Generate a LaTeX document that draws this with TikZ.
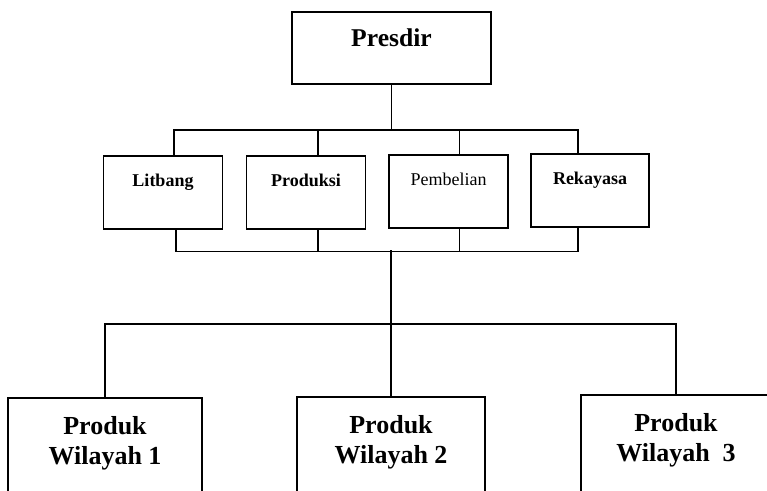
\documentclass[tikz,border=0pt]{standalone}
\usepackage{fontspec}
\setmainfont{Liberation Serif}
\tikzset{
	box/.style={draw, line width=1.6pt, inner sep=0pt, anchor=north},
	boss/.style={box, minimum width=199pt, text height=35pt, text depth=37pt, font=\fontsize{25.6}{30}\selectfont\bfseries},
	unit/.style={box, minimum width=119pt, text height=31pt, text depth=42pt, font=\fontsize{18}{22}\selectfont\bfseries},
	region/.style={box, align=center, text height=67pt, text depth=36pt, font=\fontsize{26}{30}\selectfont\bfseries},
}
\begin{document}
\begin{tikzpicture}[x=1pt, y=-1pt, line width=1.6pt]
	\useasboundingbox (0, 0) rectangle (767, 490);
	\clip (0, 0) rectangle (767, 490);

	\node[boss] (presdir) at (391.5, 11) {Presdir};

	\node[unit] (litbang) at (163, 155) {Litbang};
	\node[unit] (produksi) at (306, 155) {Produksi};
	\node[unit, font=\fontsize{18}{22}\selectfont] (pembelian) at (448.5, 154) {Pembelian};
	\node[unit, minimum width=118pt] (rekayasa) at (590, 153) {Rekayasa};

	\node[region, minimum width=194pt] (wilayah1) at (105, 397) {Produk\\Wilayah 1};
	\node[region, minimum width=188pt] (wilayah2) at (391, 396) {Produk\\Wilayah 2};
	\node[region, minimum width=190pt] (wilayah3) at (676, 394) {Produk\\Wilayah~~3};

	\coordinate (topbus) at (391.5, 130);
	\coordinate (lowbus) at (391, 250);

	\draw (presdir.south) -- (topbus);
	\draw ([xshift=11pt]litbang.north) -- ++(0, -25) -| ([xshift=-12pt]rekayasa.north);
	\draw ([xshift=12pt]produksi.north) -- ++(0, -25);
	\draw ([xshift=11pt]pembelian.north) -- ++(0, -24);

	\draw ([xshift=13pt]litbang.south) -- ++(0, 22) -| ([xshift=-12pt]rekayasa.south);
	\draw ([xshift=12pt]produksi.south) -- ++(0, 22);
	\draw ([xshift=11pt]pembelian.south) -- ++(0, 23);

	\draw (lowbus) -- (wilayah2.north);
	\draw (wilayah1.north) -- ++(0, -73) -| (wilayah3.north);
\end{tikzpicture}
\end{document}
